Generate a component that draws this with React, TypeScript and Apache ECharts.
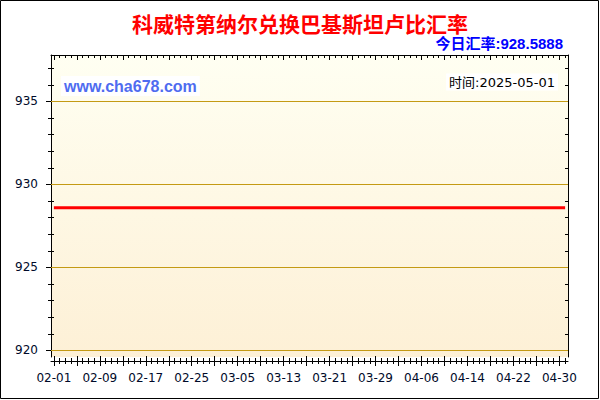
import { useEffect, useRef } from 'react'
import * as echarts from 'echarts'

const TITLE = '科威特第纳尔兑换巴基斯坦卢比汇率'
const TODAY_RATE = '928.5888'
const SITE = 'www.cha678.com'
const UPDATED = '2025-05-01'

// daily rate 02-01 .. 05-01, the line is flat in the picture
const RATES = [
  928.5888, 928.5888, 928.5888, 928.5888, 928.5888, 928.5888, 928.5888, 928.5888, 928.5888, 928.5888,
  928.5888, 928.5888, 928.5888, 928.5888, 928.5888, 928.5888, 928.5888, 928.5888, 928.5888, 928.5888,
  928.5888, 928.5888, 928.5888, 928.5888, 928.5888, 928.5888, 928.5888, 928.5888, 928.5888, 928.5888,
  928.5888, 928.5888, 928.5888, 928.5888, 928.5888, 928.5888, 928.5888, 928.5888, 928.5888, 928.5888,
  928.5888, 928.5888, 928.5888, 928.5888, 928.5888, 928.5888, 928.5888, 928.5888, 928.5888, 928.5888,
  928.5888, 928.5888, 928.5888, 928.5888, 928.5888, 928.5888, 928.5888, 928.5888, 928.5888, 928.5888,
  928.5888, 928.5888, 928.5888, 928.5888, 928.5888, 928.5888, 928.5888, 928.5888, 928.5888, 928.5888,
  928.5888, 928.5888, 928.5888, 928.5888, 928.5888, 928.5888, 928.5888, 928.5888, 928.5888, 928.5888,
  928.5888, 928.5888, 928.5888, 928.5888, 928.5888, 928.5888, 928.5888, 928.5888, 928.5888, 928.5888,
]

const Y_MIN = 919.6
const Y_MAX = 937.8
const Y_MAJOR = [920, 925, 930, 935]
const Y_MINOR = [920, 921, 922, 923, 924, 925, 926, 927, 928, 929, 930, 931, 932, 933, 934, 935, 936, 937]

const pad = (n: number) => (n < 10 ? '0' + n : '' + n)
const START = Date.UTC(2025, 1, 1)
const DATES = RATES.map((_, i) => {
  const d = new Date(START + i * 86400000)
  return `${pad(d.getUTCMonth() + 1)}-${pad(d.getUTCDate())}`
})

const LABEL_FONT = 'DejaVu Sans, Noto Sans CJK SC'
const CJK_FONT = 'Noto Sans CJK SC'
const BLACK = '#000'
const GRID_COLOR = '#c49a14'

export default function App() {
  const ref = useRef<HTMLDivElement>(null)

  useEffect(() => {
    if (!ref.current) return
    const chart = echarts.init(ref.current, undefined, { renderer: 'svg' })

    const xBase = { type: 'category', data: DATES, boundaryGap: true, splitLine: { show: false } }
    const yBase = { type: 'value', min: Y_MIN, max: Y_MAX, splitLine: { show: false } }

    chart.setOption({
      animation: false,
      backgroundColor: '#fff',
      grid: {
        left: 51,
        right: 32,
        top: 55,
        bottom: 43,
        show: true,
        borderWidth: 0,
        backgroundColor: new echarts.graphic.LinearGradient(0, 0, 0, 1, [
          { offset: 0, color: '#fffff2' },
          { offset: 1, color: '#fdf0d6' },
        ]),
      },
      xAxis: [
        {
          ...xBase,
          position: 'bottom',
          offset: 4,
          axisLine: { show: true, lineStyle: { color: BLACK, width: 1 } },
          axisTick: { show: false },
          axisLabel: { interval: 7, margin: 11, color: '#000a2a', fontSize: 12, fontFamily: LABEL_FONT },
        },
        {
          ...xBase,
          position: 'bottom',
          offset: 7,
          axisLine: { show: false },
          axisTick: { show: true, inside: true, length: 6, interval: 0, alignWithLabel: true, lineStyle: { color: BLACK } },
          axisLabel: { show: false },
        },
        {
          ...xBase,
          position: 'bottom',
          offset: 9,
          axisLine: { show: false },
          axisTick: { show: true, inside: true, length: 10, interval: 3, alignWithLabel: true, lineStyle: { color: BLACK } },
          axisLabel: { show: false },
        },
        {
          ...xBase,
          position: 'top',
          axisLine: { show: true, lineStyle: { color: BLACK, width: 1 } },
          axisTick: { show: true, inside: true, length: 3, interval: 0, alignWithLabel: true, lineStyle: { color: BLACK } },
          axisLabel: { show: false },
        },
        {
          ...xBase,
          position: 'top',
          axisLine: { show: false },
          axisTick: { show: true, inside: true, length: 5, interval: 3, alignWithLabel: true, lineStyle: { color: BLACK } },
          axisLabel: { show: false },
        },
      ],
      yAxis: [
        {
          ...yBase,
          position: 'left',
          axisLine: { show: true, lineStyle: { color: BLACK, width: 1 } },
          axisTick: { show: false },
          axisLabel: { show: false },
        },
        {
          ...yBase,
          position: 'left',
          offset: 3,
          axisLine: { show: false },
          axisTick: { show: true, inside: true, length: 6, customValues: Y_MINOR, lineStyle: { color: BLACK } },
          axisLabel: { show: false },
        },
        {
          ...yBase,
          position: 'left',
          offset: 5,
          axisLine: { show: false },
          axisTick: { show: true, inside: true, length: 10, customValues: Y_MAJOR, lineStyle: { color: BLACK } },
          axisLabel: {
            customValues: Y_MAJOR,
            margin: 8,
            color: '#000a2a',
            fontSize: 12,
            fontFamily: LABEL_FONT,
          },
        },
        {
          ...yBase,
          position: 'right',
          axisLine: { show: true, lineStyle: { color: BLACK, width: 1 } },
          axisTick: { show: true, inside: true, length: 3, customValues: Y_MINOR, lineStyle: { color: BLACK } },
          axisLabel: { show: false },
        },
      ],
      series: [
        {
          type: 'line',
          xAxisIndex: 0,
          yAxisIndex: 0,
          data: RATES,
          symbol: 'none',
          lineStyle: { color: '#ff0000', width: 3 },
          z: 5,
          markLine: {
            silent: true,
            symbol: ['none', 'none'],
            label: { show: false },
            lineStyle: { color: GRID_COLOR, width: 1, type: 'solid' },
            data: Y_MAJOR.map((v) => ({ yAxis: v })),
          },
        },
      ],
      graphic: [
        {
          type: 'rect',
          shape: { x: 0.5, y: 0.5, width: 598, height: 398 },
          style: { fill: 'none', stroke: BLACK, lineWidth: 1 },
          silent: true,
        },
        {
          type: 'text',
          x: 300,
          y: 23,
          style: {
            text: TITLE,
            fill: '#ff0000',
            font: `bold 21px ${CJK_FONT}`,
            textAlign: 'center',
            textVerticalAlign: 'middle',
          },
        },
        {
          type: 'text',
          x: 563,
          y: 43,
          style: {
            text: '今日汇率:' + TODAY_RATE,
            fill: '#0000ff',
            font: `bold 15px Liberation Sans, ${CJK_FONT}`,
            textAlign: 'right',
            textVerticalAlign: 'middle',
          },
        },
        {
          type: 'text',
          x: 61,
          y: 86,
          z: 10,
          style: {
            text: SITE,
            fill: '#4f6cf0',
            font: 'bold 16px Liberation Sans',
            textAlign: 'left',
            textVerticalAlign: 'middle',
            backgroundColor: '#fff',
            padding: [2, 3],
          },
        },
        {
          type: 'text',
          x: 558,
          y: 82,
          z: 10,
          style: {
            text: '时间:' + UPDATED,
            fill: '#000',
            font: `13px ${LABEL_FONT}`,
            textAlign: 'right',
            textVerticalAlign: 'middle',
            backgroundColor: '#fff',
            padding: [2, 3],
          },
        },
      ],
    })

    return () => chart.dispose()
  }, [])

  return <div ref={ref} style={{ position: 'absolute', left: 0, top: 0, width: 600, height: 400 }} />
}
